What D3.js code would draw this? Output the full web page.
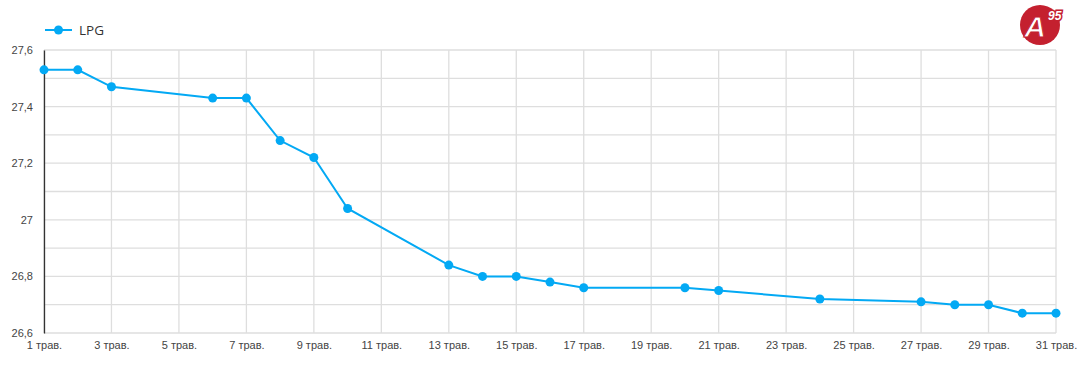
<!DOCTYPE html>
<html>
<head>
<meta charset="utf-8">
<script src="https://cdn.jsdelivr.net/npm/d3@7"></script>
<style>
  body { margin: 0; background: #fff; }
  svg { display: block; font-family: "Open Sans", sans-serif; }
</style>
</head>
<body>
<svg width="1080" height="365"></svg>
<script>
var days = [1, 2, 3, 6, 7, 8, 9, 10, 13, 14, 15, 16, 17, 20, 21, 24, 27, 28, 29, 30, 31];
var prices = [27.53, 27.53, 27.47, 27.43, 27.43, 27.28, 27.22, 27.04, 26.84, 26.80, 26.80, 26.78, 26.76, 26.76, 26.75, 26.72, 26.71, 26.70, 26.70, 26.67, 26.67];
var xTicks = [1, 3, 5, 7, 9, 11, 13, 15, 17, 19, 21, 23, 25, 27, 29, 31];
var yGrid = [26.6, 26.7, 26.8, 26.9, 27.0, 27.1, 27.2, 27.3, 27.4, 27.5, 27.6];
var yTicks = [26.6, 26.8, 27.0, 27.2, 27.4, 27.6];
var seriesName = "LPG";

var color = "#03a9f4";
var svg = d3.select("svg");

var x = d3.scaleLinear().domain([1, 31]).range([44, 1056]);
var y = d3.scaleLinear().domain([26.6, 27.6]).range([333, 50]);

// grid
var grid = svg.append("g");
grid.selectAll(".h")
    .data(yGrid)
    .enter()
    .append("line")
    .attr("x1", 44).attr("x2", 1056)
    .attr("y1", d => y(d)).attr("y2", d => y(d))
    .attr("stroke", "#dedede")
    .attr("stroke-width", 1.3);
grid.selectAll(".v")
    .data(xTicks)
    .enter()
    .append("line")
    .attr("x1", d => x(d)).attr("x2", d => x(d))
    .attr("y1", 50).attr("y2", 333)
    .attr("stroke", "#dedede")
    .attr("stroke-width", 1.3);

// y axis
var yAxis = svg.append("g")
    .attr("transform", "translate(44,0)")
    .call(d3.axisLeft(y).tickValues(yTicks).tickSize(0).tickPadding(11)
        .tickFormat(d => d3.format("~r")(+d.toFixed(1)).replace(".", ",")));
yAxis.select(".domain").attr("stroke", "#333").attr("stroke-width", 1.3);
yAxis.selectAll("text").attr("fill", "#444").style("font-size", "11px");

// x axis
var xAxis = svg.append("g")
    .attr("transform", "translate(0,333)")
    .call(d3.axisBottom(x).tickValues(xTicks).tickSize(0).tickPadding(8)
        .tickFormat(d => d + " трав."));
xAxis.select(".domain").remove();
xAxis.selectAll("text").attr("fill", "#444").style("font-size", "11px");

// line
var line = d3.line().x((d, i) => x(days[i])).y(d => y(d));
svg.append("path")
    .datum(prices)
    .attr("d", line)
    .attr("fill", "none")
    .attr("stroke", color)
    .attr("stroke-width", 2);

svg.append("g")
    .selectAll("circle")
    .data(prices)
    .enter()
    .append("circle")
    .attr("cx", (d, i) => x(days[i]))
    .attr("cy", d => y(d))
    .attr("r", 4.5)
    .attr("fill", color);

// legend
var legend = svg.append("g").attr("transform", "translate(45,30)");
legend.append("line").attr("x1", 0).attr("x2", 27).attr("stroke", color).attr("stroke-width", 2);
legend.append("circle").attr("cx", 13.5).attr("r", 4.5).attr("fill", color);
legend.append("text").attr("x", 34).attr("dy", "0.35em")
    .attr("fill", "#333").style("font-size", "13.5px").text(seriesName);

// logo
var logo = svg.append("g").attr("transform", "translate(1040,25)");
logo.append("circle").attr("r", 20).attr("fill", "#c4202f");
logo.append("text").attr("x", -5).attr("y", 12).attr("text-anchor", "middle")
    .attr("fill", "#fff").attr("stroke", "#c4202f").attr("stroke-width", 1)
    .style("font-size", "30px").style("font-weight", "bold").style("font-style", "italic")
    .style("font-family", "Liberation Sans, sans-serif").text("A");
logo.append("text").attr("x", 8).attr("y", -5).attr("text-anchor", "start")
    .attr("fill", "#fff").attr("stroke", "#c4202f").attr("stroke-width", 3)
    .style("paint-order", "stroke")
    .style("font-size", "12px").style("font-weight", "bold")
    .style("font-style", "italic").style("font-family", "Liberation Sans, sans-serif").text("95");
</script>
</body>
</html>
